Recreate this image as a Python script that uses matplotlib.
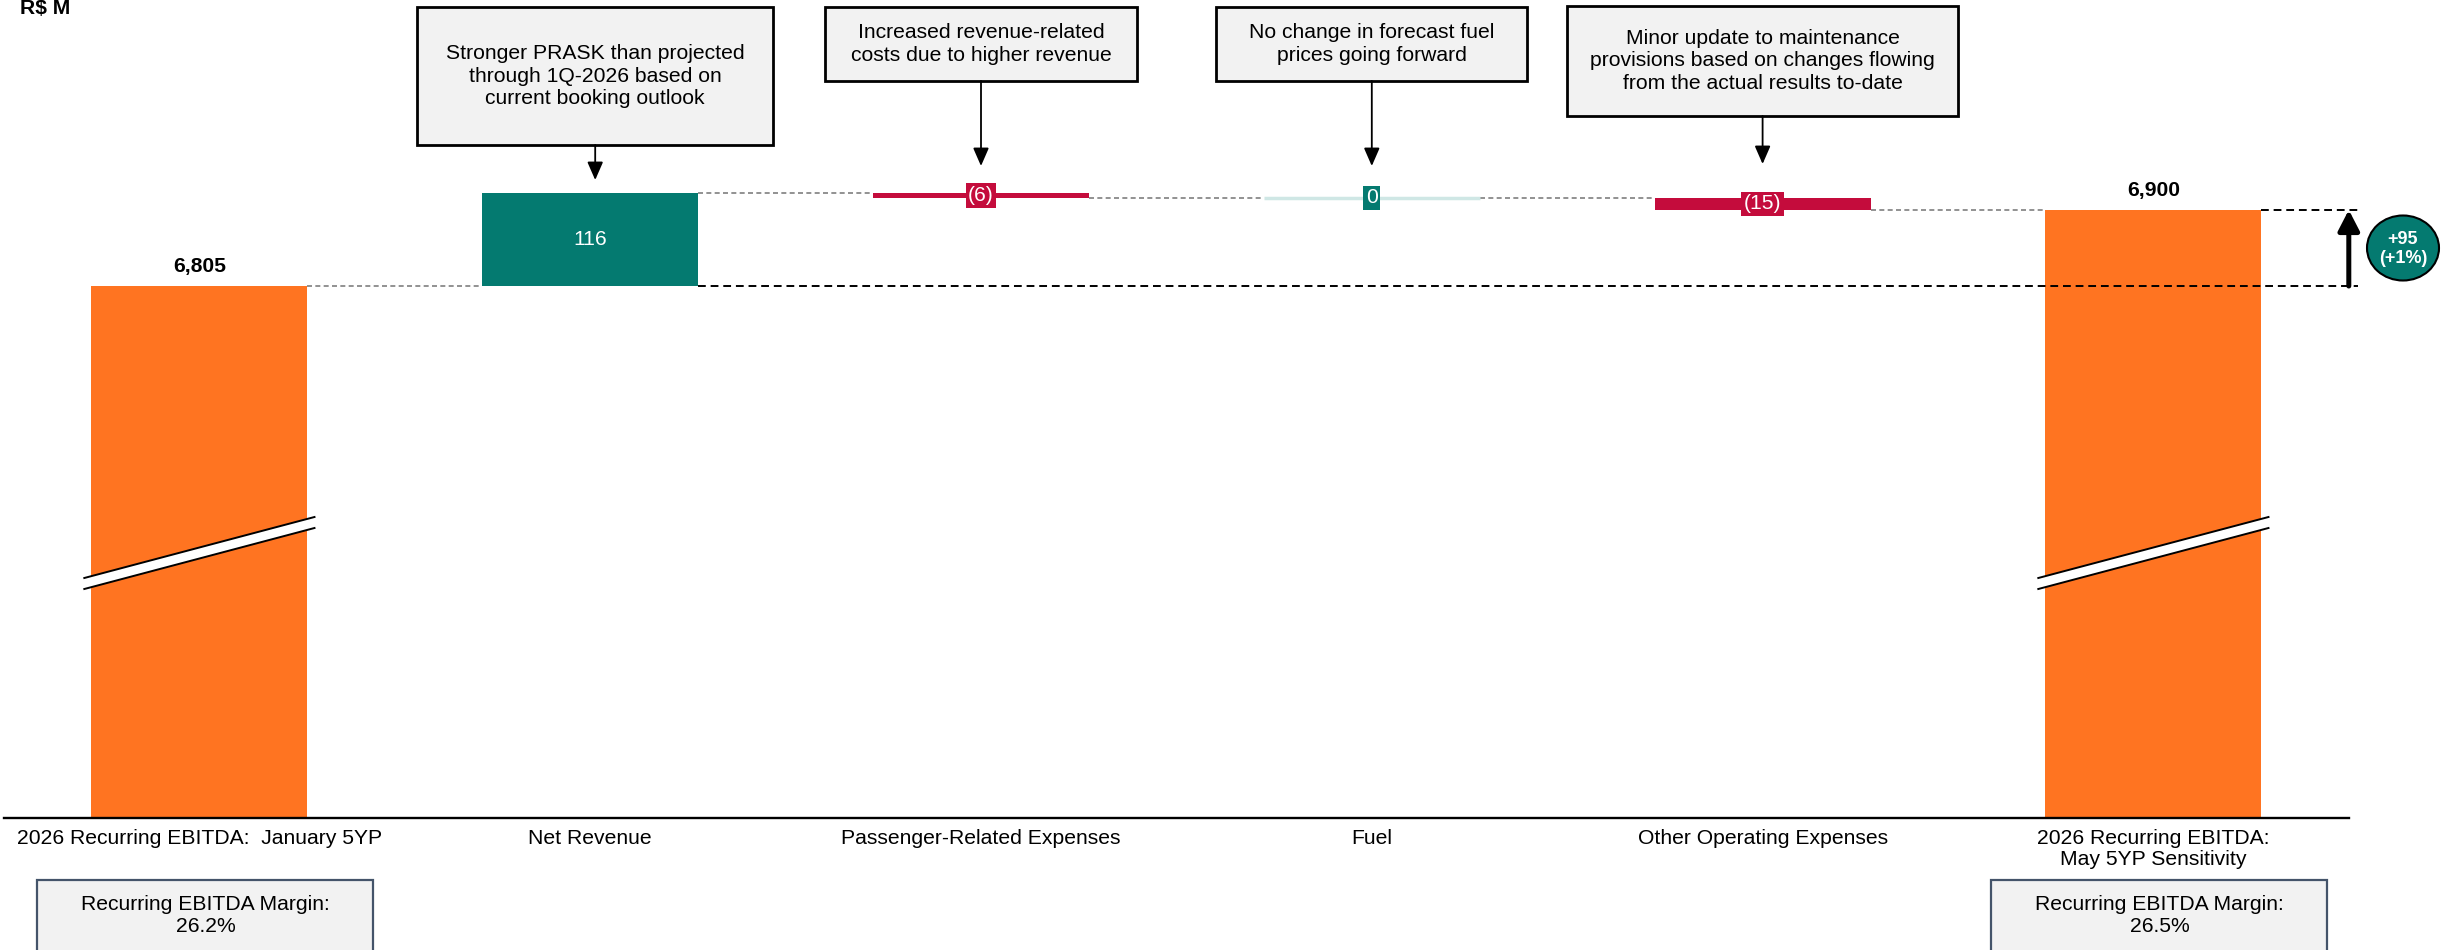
import numpy as np
import matplotlib
matplotlib.use('Agg')
import matplotlib.pyplot as plt
from matplotlib.patches import Rectangle, Polygon, Ellipse, FancyArrowPatch
import matplotlib.transforms as mtransforms

plt.rcParams['font.family'] = ['Liberation Sans', 'DejaVu Sans']

# ---------------- data ----------------
categories = ["2026 Recurring EBITDA:  January 5YP", "Net Revenue",
              "Passenger-Related Expenses", "Fuel", "Other Operating Expenses",
              "2026 Recurring EBITDA:\nMay 5YP Sensitivity"]
start_value = 6805
changes = [116, -6, 0, -15]
end_value = 6900
margin_labels = ["Recurring EBITDA Margin:\n26.2%", "Recurring EBITDA Margin:\n26.5%"]
notes = ["Stronger PRASK than projected\nthrough 1Q-2026 based on\ncurrent booking outlook",
         "Increased revenue-related\ncosts due to higher revenue",
         "No change in forecast fuel\nprices going forward",
         "Minor update to maintenance\nprovisions based on changes flowing\nfrom the actual results to-date"]
unit_label = "R$ M"
delta_text = "+95\n(+1%)"

# ---------------- style ----------------
ORANGE = '#FF7421'
TEAL = '#047A70'
CRIMSON = '#C40C3C'
ZERO = '#CFE7E5'
BOXFACE = '#F2F2F2'
FS = 15.2

W, H = 2442, 950
fig = plt.figure(figsize=(W / 100, H / 100), dpi=100)


def fx(px):
    return px / W


def fy(py):
    return 1 - py / H


base_px = 818
ax_left_px = 4
step_px = 390.8
ax = fig.add_axes([fx(ax_left_px), fy(base_px), 1 - fx(ax_left_px), base_px / H])
ax.set_xlim(-0.5, -0.5 + (W - ax_left_px) / step_px)
y_floor, y_top = 6141, 7162
ax.set_ylim(y_floor, y_top)

x_arrow = 5.5
for s in ['top', 'left', 'right']:
    ax.spines[s].set_visible(False)
ax.spines['bottom'].set_bounds(-0.5, x_arrow)
ax.spines['bottom'].set_linewidth(1.7)
ax.spines['bottom'].set_color('black')
ax.set_yticks([])
x = np.arange(len(categories))
ax.set_xticks(x, categories, fontsize=FS)
ax.tick_params(axis='x', length=0, pad=8)
for t in ax.get_xticklabels():
    t.set_linespacing(1.15)

bw = 0.553
levels = np.concatenate([[start_value], start_value + np.cumsum(changes)])

# total bars
ax.bar([0, 5], [start_value - y_floor, end_value - y_floor], bottom=y_floor,
       width=bw, color=ORANGE, zorder=2)
for xi, v in zip([0, 5], [start_value, end_value]):
    ax.annotate(f'{v:,}', (xi, v), xytext=(0, 7), textcoords='offset points',
                ha='center', va='bottom', fontsize=FS, fontweight='bold')

# change bars
for i, ch in enumerate(changes):
    xi = i + 1
    lo = min(levels[i], levels[i + 1])
    color = TEAL if ch >= 0 else CRIMSON
    if ch == 0:
        ax.hlines(levels[i], xi - bw / 2, xi + bw / 2, color=ZERO, lw=2.5, zorder=2)
    else:
        ax.bar(xi, abs(ch), bottom=lo, width=bw, color=color, zorder=2)
    label = f'{ch:,}' if ch >= 0 else f'({abs(ch):,})'
    ymid = lo + abs(ch) / 2
    if abs(ch) >= 50:
        ax.text(xi, ymid, label, ha='center', va='center', color='white',
                fontsize=FS, zorder=4)
    else:
        ax.text(xi, ymid, label, ha='center', va='center', color='white',
                fontsize=FS, zorder=4,
                bbox=dict(boxstyle='square,pad=0.12', fc=color, ec='none'))

# connectors
for i in range(len(levels)):
    ax.hlines(levels[i], i + bw / 2, i + 1 - bw / 2, color='#7F7F7F', lw=1.2,
              linestyles=(0, (3, 2)), zorder=1)

# reference dashed lines and delta arrow
ax.hlines(start_value, 1 + bw / 2, x_arrow + 0.023, color='black', lw=1.4,
          linestyles=(0, (4, 2.5)), zorder=3)
ax.hlines(end_value, 5 + bw / 2, x_arrow + 0.023, color='black', lw=1.4,
          linestyles=(0, (4, 2.5)), zorder=3)
ax.annotate('', xy=(x_arrow, end_value), xytext=(x_arrow, start_value),
            arrowprops=dict(arrowstyle='-|>,head_length=0.62,head_width=0.32',
                            mutation_scale=20, lw=3.6, color='black',
                            shrinkA=0, shrinkB=0), zorder=5)
fig.add_artist(Ellipse((fx(2403), fy(248)), 72 / W, 65 / H, fc=TEAL, ec='black',
                       lw=1.5, transform=fig.transFigure))
fig.text(fx(2403), fy(249), delta_text, ha='center', va='center', color='white',
         fontsize=13, fontweight='bold', linespacing=1.15)

# axis break marks
trans_xa = mtransforms.blended_transform_factory(ax.transData, ax.transAxes)
ext = 0.018
y_lo_left, y_lo_right, gap = (base_px - 578) / base_px, (base_px - 517) / base_px, 11 / base_px
for xi in [0, 5]:
    xl, xr = xi - bw / 2 - ext, xi + bw / 2 + ext
    poly = Polygon([(xl, y_lo_left - gap), (xr, y_lo_right - gap), (xr, y_lo_right), (xl, y_lo_left)],
                   closed=True, fc='white', ec='none', transform=trans_xa, zorder=3,
                   clip_on=False)
    ax.add_patch(poly)
    for off in [0, -gap]:
        ax.plot([xl, xr], [y_lo_left + off, y_lo_right + off], color='black', lw=1.4,
                transform=trans_xa, zorder=4, clip_on=False)

# commentary boxes with arrows (layout in pixels: width, top, bottom, arrow end)
fig.canvas.draw()
note_layout = [(356, 7, 145, 180), (312, 7, 81, 166), (311, 7, 81, 166), (391, 6, 116, 164)]
for i, (note, (wpx, top, bot, aend)) in enumerate(zip(notes, note_layout)):
    cx = ax.transData.transform((i + 1, 0))[0] + (5 if i == 0 else 0)
    fig.add_artist(Rectangle((fx(cx - wpx / 2), fy(bot)), wpx / W, (bot - top) / H,
                             fc=BOXFACE, ec='black', lw=2, transform=fig.transFigure))
    fig.text(fx(cx), fy((top + bot) / 2), note, ha='center', va='center',
             fontsize=FS, linespacing=1.22)
    fig.add_artist(FancyArrowPatch(
        (fx(cx), fy(bot)), (fx(cx), fy(aend)), transform=fig.transFigure,
        arrowstyle='-|>,head_length=1.1,head_width=0.48', mutation_scale=10,
        lw=1.3, color='black', shrinkA=0, shrinkB=0))

# margin boxes below total bars
for xi, txt in zip([0, 5], margin_labels):
    cx = ax.transData.transform((xi, 0))[0] + 6
    fig.add_artist(Rectangle((fx(cx - 168), fy(965)), 336 / W, (965 - 880) / H,
                             fc=BOXFACE, ec='#44546A', lw=1.6, transform=fig.transFigure,
                             clip_on=False))
    fig.text(fx(cx), fy(916), txt, ha='center', va='center', fontsize=FS,
             linespacing=1.2)

fig.text(fx(20), fy(14), unit_label, fontsize=FS, fontweight='bold', va='baseline')

fig.savefig('out.png', dpi=100)
